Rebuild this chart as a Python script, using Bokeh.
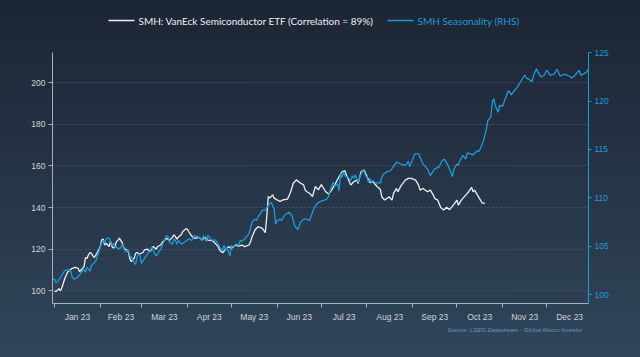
import pandas as pd
from bokeh.plotting import figure
from bokeh.layouts import column
from bokeh.models import Range1d, LinearAxis, FixedTicker, DatetimeTickFormatter
from bokeh.core.properties import value
from bokeh.embed import file_html
from bokeh.resources import INLINE

# ---- data (day offsets from 2023-01-01) ----
smh_day = [0, 1, 3, 4, 5, 7, 9, 12, 14, 16, 17, 18, 20, 21, 22, 23, 24, 25, 26, 27, 29, 30, 31, 32, 33, 34, 35,
           37, 38, 39, 40, 41, 42, 43, 44, 46, 47, 48, 49, 50, 51, 52, 54, 55, 56, 58, 60, 61, 63, 64, 65, 66,
           67, 69, 70, 72, 73, 75, 76, 78, 80, 81, 82, 83, 84, 86, 87, 89, 90, 91, 93, 95, 98, 100, 102, 104,
           107, 109, 111, 112, 114, 116, 118, 120, 123, 125, 127, 129, 132, 133, 134, 136, 138, 141, 143, 144,
           145, 146, 148, 149, 151, 153, 155, 158, 160, 162, 164, 167, 169, 170, 171, 173, 175, 177, 179, 181,
           184, 186, 188, 190, 193, 195, 197, 198, 201, 203, 205, 206, 208, 210, 212, 214, 216, 219, 221, 222,
           224, 227, 229, 230, 232, 233, 235, 238, 240, 242, 245, 247, 248, 250, 253, 255, 257, 258, 260, 262,
           264, 266, 268, 271, 273, 274, 276, 279, 281, 283, 284, 285, 287, 289, 290, 292]
smh = [100.0, 99.6, 101.0, 100.0, 101.6, 106.0, 109.2, 110.8, 111.3, 110.8, 109.2, 110.0, 111.6, 116.0, 115.5,
       117.3, 118.4, 118.0, 116.8, 116.0, 118.4, 119.7, 121.3, 124.5, 124.8, 122.0, 122.9, 121.3, 123.7, 121.3,
       120.5, 121.3, 123.7, 124.2, 125.3, 122.9, 120.5, 120.0, 119.7, 118.9, 115.6, 114.0, 115.6, 118.0, 118.4,
       117.7, 118.4, 119.7, 120.0, 119.4, 118.9, 120.5, 121.3, 120.0, 121.3, 122.0, 123.2, 124.5, 125.3, 124.2,
       125.8, 126.9, 126.0, 124.8, 125.8, 126.9, 128.5, 129.7, 129.7, 128.5, 126.3, 125.2, 125.7, 124.4, 125.7,
       124.4, 124.1, 122.8, 121.2, 119.6, 118.3, 119.9, 121.2, 120.4, 122.0, 121.5, 122.0, 121.2, 122.0, 123.6,
       126.0, 129.2, 130.8, 130.0, 127.9, 135.6, 145.3, 144.5, 146.1, 144.5, 143.7, 142.9, 143.7, 144.0, 147.1,
       151.7, 153.3, 151.7, 150.9, 148.5, 147.7, 146.9, 145.3, 150.1, 148.5, 151.0, 147.6, 146.5, 148.4, 150.8,
       154.8, 157.2, 157.7, 155.6, 150.8, 152.4, 153.2, 151.6, 157.2, 158.0, 154.8, 152.0, 152.4, 150.0, 148.8,
       145.2, 143.6, 145.2, 143.6, 146.8, 149.2, 147.6, 150.4, 153.2, 154.0, 154.0, 153.2, 150.8, 148.4, 149.2,
       147.6, 148.4, 146.0, 144.4, 143.6, 140.0, 138.8, 140.1, 139.0, 141.5, 143.6, 141.2, 143.6, 146.0, 147.6,
       149.7, 147.6, 148.4, 146.0, 143.6, 142.3, 142.0]

seas_day = [-1, 0, 1, 3, 5, 7, 9, 11, 12, 13, 15, 17, 18, 20, 21, 22, 23, 24, 25, 28, 29, 30, 31, 32, 33, 34, 35,
            37, 38, 39, 40, 41, 42, 43, 45, 46, 47, 48, 49, 50, 51, 52, 54, 55, 56, 57, 58, 59, 60, 63, 65, 66,
            67, 68, 69, 72, 74, 76, 77, 78, 80, 81, 82, 83, 84, 86, 89, 91, 93, 95, 98, 100, 101, 102, 103, 104,
            106, 107, 109, 111, 112, 114, 115, 116, 117, 118, 119, 120, 121, 123, 125, 126, 127, 129, 132, 134,
            136, 137, 138, 141, 143, 145, 147, 149, 150, 151, 153, 154, 156, 159, 161, 163, 165, 167, 169, 171,
            173, 176, 178, 180, 182, 185, 186, 187, 189, 190, 192, 193, 194, 195, 196, 197, 199, 201, 202, 203,
            204, 206, 207, 209, 210, 211, 212, 213, 214, 215, 216, 218, 220, 221, 222, 223, 225, 228, 230, 232,
            235, 237, 239, 240, 241, 244, 245, 247, 248, 250, 253, 255, 257, 258, 261, 262, 264, 265, 267, 270,
            271, 273, 274, 275, 277, 279, 280, 282, 284, 287, 288, 290, 291, 293, 294, 296, 297, 298, 299, 301,
            302, 304, 306, 308, 310, 311, 314, 316, 319, 320, 322, 324, 325, 327, 328, 330, 332, 334, 336, 339,
            341, 343, 346, 349, 351, 353, 356, 357, 359, 361, 362]
seas = [101.5, 101.6, 101.2, 101.5, 102.0, 102.5, 102.55, 102.4, 101.8, 101.6, 101.7, 102.0, 102.3, 102.55,
        102.3, 102.8, 102.65, 102.4, 103.0, 103.45, 104.0, 104.4, 104.9, 105.4, 105.6, 105.3, 105.75, 105.85,
        105.4, 105.1, 105.3, 104.9, 104.95, 104.7, 104.85, 105.2, 104.9, 104.4, 104.55, 104.6, 104.0, 103.9,
        103.3, 103.1, 103.9, 104.2, 104.0, 103.2, 103.5, 104.2, 104.55, 104.9, 104.55, 104.2, 104.0, 104.7,
        105.4, 106.1, 106.0, 105.4, 105.2, 105.75, 105.6, 105.2, 105.6, 105.2, 105.5, 105.75, 105.6, 106.1,
        105.9, 105.6, 106.1, 105.75, 105.5, 106.1, 105.75, 105.6, 105.65, 105.25, 104.9, 104.55, 105.1, 104.55,
        104.9, 104.4, 104.0, 105.1, 104.9, 105.2, 105.1, 105.6, 105.5, 105.75, 106.3, 107.5, 107.8, 107.65,
        108.0, 108.7, 108.75, 109.2, 109.55, 108.85, 107.3, 107.65, 107.8, 107.65, 108.2, 108.5, 108.2, 107.1,
        106.7, 107.5, 107.8, 107.8, 107.65, 108.9, 109.4, 109.6, 109.7, 109.9, 110.2, 110.75, 111.6, 111.2,
        111.45, 110.7, 112.5, 112.1, 112.65, 112.3, 112.1, 111.8, 112.3, 112.0, 112.4, 111.6, 112.1, 112.8,
        112.75, 112.3, 112.1, 111.6, 112.0, 111.6, 111.8, 111.5, 111.6, 111.5, 112.1, 112.4, 112.65, 112.8,
        113.25, 113.7, 113.5, 113.35, 113.5, 113.8, 113.2, 114.4, 114.55, 114.55, 114.2, 113.5, 113.0, 112.3,
        112.8, 113.0, 113.2, 113.6, 114.0, 113.9, 113.35, 112.2, 113.0, 113.5, 113.35, 113.85, 114.4, 114.0,
        114.65, 114.55, 114.45, 114.9, 114.8, 115.5, 115.9, 117.1, 118.0, 118.35, 119.9, 120.25, 119.55,
        118.85, 119.55, 119.5, 120.3, 121.1, 120.65, 120.9, 121.45, 121.95, 122.7, 122.4, 122.25, 122.0,
        122.65, 123.35, 123.0, 122.5, 122.65, 123.2, 122.7, 122.8, 123.3, 122.6, 122.8, 122.6, 122.4, 122.65,
        123.2, 122.7, 122.8, 123.0, 123.3]

left_ticks = [100, 120, 140, 160, 180, 200]
right_ticks = [100, 105, 110, 115, 120, 125]
smh_label = "SMH: VanEck Semiconductor ETF (Correlation = 89%)"
seas_label = "SMH Seasonality (RHS)"
source_text = "Source: LSEG Datastream - Global Macro Investor"

# ---- derived ----
base = pd.Timestamp("2023-01-01")
smh_x = base + pd.to_timedelta(smh_day, unit="D")
seas_x = base + pd.to_timedelta(seas_day, unit="D")
month_starts = pd.date_range("2023-01-01", "2024-01-01", freq="MS")
start_ms = [t.value / 1e6 for t in month_starts]
mid_ms = [(a + b) / 2 for a, b in zip(start_ms[:-1], start_ms[1:])]

WHITE = "#eef0f2"
BLUE = "#1f9ad6"
GRID = "#415064"
TXT = "#cfd3d7"
AX = "#a9afb6"

W = 640
FL, FR = 52, 588          # frame edges (shared by all stacked figures)
HEAD_H, FOOT_H = 40, 33
MAIN_H = 357 - HEAD_H - FOOT_H


def strip(h):
    f = figure(width=W, height=h, x_range=Range1d(FL, FR), y_range=Range1d(0, h), output_backend="svg",
               toolbar_location=None, x_axis_location=None, y_axis_location=None,
               min_border_left=FL, min_border_right=W - FR, min_border_top=0, min_border_bottom=0)
    f.grid.visible = False
    f.outline_line_color = None
    f.border_fill_alpha = 0
    f.background_fill_alpha = 0
    return f


# header with the legend
head = strip(HEAD_H)
ly = HEAD_H - 20
head.line([108, 134], [ly, ly], color=WHITE, line_width=1.3)
head.text(x=[138], y=[ly], text=[smh_label], text_baseline="middle", text_font=value("Lato"),
          text_font_size="10px", text_color=WHITE)
head.line([387, 413], [ly, ly], color=BLUE, line_width=1.3)
head.text(x=[417], y=[ly], text=[seas_label], text_baseline="middle", text_font=value("Lato"),
          text_font_size="10px", text_color=BLUE)

# main chart
p = figure(width=W, height=MAIN_H, x_axis_type="datetime", output_backend="svg", toolbar_location=None,
           x_range=Range1d(base - pd.Timedelta(days=1.4), base + pd.Timedelta(days=362.3)),
           y_range=Range1d(93.9, 214.5))
p.min_border_left = FL
p.min_border_right = W - FR
p.min_border_top = 52 - HEAD_H
p.min_border_bottom = int(round(MAIN_H - (303.5 - HEAD_H)))
p.border_fill_alpha = 0
p.background_fill_alpha = 0
p.outline_line_color = None
p.extra_y_ranges = {"rhs": Range1d(99.07, 125.03)}

p.line(smh_x, smh, color=WHITE, line_width=1.3)
p.line(seas_x, seas, color=BLUE, line_width=1.3, y_range_name="rhs")

ya = p.yaxis[0]
ya.ticker = FixedTicker(ticks=left_ticks)
ya.axis_line_color = AX
ya.major_tick_line_color = AX
ya.major_tick_out = 4
ya.major_tick_in = 0
ya.minor_tick_line_color = None
ya.major_label_text_color = TXT
ya.major_label_text_font = "Liberation Sans"
ya.major_label_text_font_size = "8.5px"
ya.major_label_standoff = 3

p.ygrid.ticker = FixedTicker(ticks=left_ticks)
p.ygrid.grid_line_color = GRID
p.ygrid.grid_line_dash = "2 2"
p.xgrid.visible = False

ra = LinearAxis(y_range_name="rhs", ticker=FixedTicker(ticks=right_ticks))
ra.axis_line_color = BLUE
ra.major_tick_line_color = BLUE
ra.major_tick_out = 3
ra.major_tick_in = 0
ra.minor_tick_line_color = None
ra.major_label_text_color = BLUE
ra.major_label_text_font = "Liberation Sans"
ra.major_label_text_font_size = "8.5px"
ra.major_label_standoff = 3
p.add_layout(ra, "right")

xa = p.xaxis[0]
xa.ticker = FixedTicker(ticks=mid_ms, minor_ticks=start_ms)
fmt = "%b %y"
xa.formatter = DatetimeTickFormatter(microseconds=fmt, milliseconds=fmt, seconds=fmt, minsec=fmt, minutes=fmt,
                                     hourmin=fmt, hours=fmt, days=fmt, months=fmt, years=fmt)
xa.axis_line_color = AX
xa.major_tick_in = 0
xa.major_tick_out = 0
xa.minor_tick_in = 0
xa.minor_tick_out = 4
xa.minor_tick_line_color = AX
xa.major_label_text_color = TXT
xa.major_label_text_font = "Liberation Sans"
xa.major_label_text_font_size = "8.5px"
xa.major_label_standoff = 4

# footer with the source note
foot = strip(FOOT_H)
foot.text(x=[582], y=[FOOT_H - (329.6 - (HEAD_H + MAIN_H))], text=[source_text], text_align="right",
          text_baseline="middle", text_font=value("Liberation Sans"), text_font_style="italic",
          text_font_size="6px", text_color="#5f98c6")

layout = column(head, p, foot, spacing=0, width=W, height=357,
                styles={"background": "linear-gradient(180deg, #1c2533 0%, #243143 40%, #30465b 100%)"})

open("out.html", "w").write(file_html(layout, INLINE))
